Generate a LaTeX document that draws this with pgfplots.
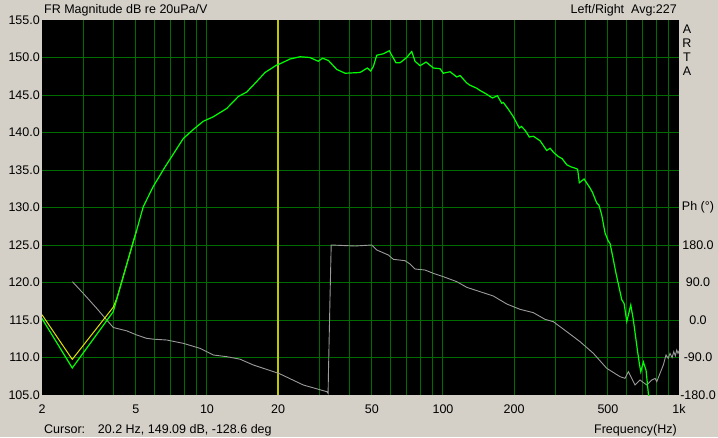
\documentclass[border=0pt]{standalone}
\usepackage{fontspec}
\setmainfont{Liberation Sans}
\usepackage{pgfplots}
\pgfplotsset{compat=1.18}
\usepackage{pgfplotstable}

\definecolor{winbg}{RGB}{212,208,200}
\definecolor{gridgreen}{RGB}{0,108,0}
\definecolor{cursorcol}{RGB}{190,200,0}
\definecolor{maggreen}{RGB}{0,255,0}
\definecolor{magyellow}{RGB}{225,225,0}
\definecolor{phasegray}{RGB}{155,155,155}

\pgfplotstableread{
f db
2.000 115.2
2.687 108.6
4.006 116.1
4.92 125.9
5.04 127.0
5.37 130.1
5.92 132.8
6.64 135.4
7.94 139.2
8.75 140.4
9.65 141.5
10.64 142.1
12.12 143.2
13.58 144.8
14.74 145.4
16.25 146.8
17.62 148.0
19.75 149.0
20.2 149.1
22.5 149.8
24.0 150.0
24.8 150.1
27.3 150.0
29.6 149.5
30.9 149.9
32.7 149.6
35.5 148.4
38.5 147.9
44.5 148.0
47.8 148.6
49.4 148.2
50.7 148.8
52.4 150.3
55.9 150.5
59.2 150.9
63.2 149.3
65.8 149.3
70.2 150.0
73.7 150.8
76.1 149.5
80.0 148.9
84.8 149.4
91.0 148.6
97.2 148.5
100.3 147.9
107.1 148.1
114.4 147.4
118.1 147.6
126.1 146.6
130.2 146.3
139.0 145.9
143.5 145.6
153.3 145.1
161.9 144.6
170.0 144.9
177.4 143.9
180.2 144.0
189.2 143.1
198.6 142.1
210.6 140.6
215.0 140.8
222.7 140.3
232.2 139.4
241.5 139.5
257.8 138.9
275.2 137.6
284.2 137.9
295.0 137.3
308.2 136.8
320.0 136.5
334.5 135.7
350.0 135.4
366.2 135.2
372.0 135.1
378.2 133.3
396.0 133.8
419.8 132.6
430.0 132.0
448.2 130.6
458.0 130.3
470.5 129.0
486.0 126.6
502.0 125.5
510.4 125.2
525.0 123.3
541.0 121.2
572.2 117.7
585.2 117.2
600.8 114.8
624.6 117.0
640.6 115.0
666.2 111.0
679.2 109.2
688.8 108.1
706.4 109.4
725.2 108.3
741.6 105.2
760.0 103.0
}\magdata

\pgfplotstableread{
f db
2.000 115.7
2.687 109.75
4.006 116.7
4.15 117.9
4.92 125.9
5.04 127.0
}\yellowdata

\pgfplotstableread{
f ph
2.69 92
2.99 64
3.41 28
3.76 0
4.01 -18
4.57 -26
5.04 -36
5.55 -44
5.92 -46
6.75 -48
7.94 -56
9.34 -68
10.64 -84
12.12 -88
13.80 -94
15.72 -108
20.25 -128.6
25.6 -156
32.2 -172
32.6 -176
32.7 -132
33.2 48
33.6 180
42.4 177.6
49.9 180
52.4 168
58.7 156
61.6 145.6
69.0 142.4
72.5 134.4
76.1 122.4
83.9 120
91.0 112
100.3 104
114.4 92
126.1 78.4
143.5 68
163.4 57.6
186.3 38.4
212.0 25.6
241.5 17.6
270.5 1.6
293.5 -4
334.5 -28
380.8 -52
433.6 -80
494.2 -116
562.6 -136
590.6 -140
610.0 -124
651.3 -156
683.8 -144
730.0 -156
766.6 -144
792 -140
805 -148
831 -128
858 -108
881 -84
900 -92
916 -80
935 -90
950 -76
965 -86
978 -72
990 -80
1000 -74
}\phasedata

\begin{document}
\begin{tikzpicture}[font=\fontsize{12.5pt}{15pt}\selectfont]
\fill[winbg] (0,0) rectangle (718pt,437pt);

% phase axis with background and grid
\begin{axis}[
  at={(42pt,42pt)}, anchor=south west,
  scale only axis, width=637pt, height=375pt,
  xmode=log, xmin=2, xmax=1000,
  ymin=-180, ymax=720,
  axis background/.style={fill=black},
  axis line style={draw=none},
  major tick length=0pt, minor tick length=0pt,
  xtick={5,10,20,50,100,200,500},
  xticklabels={5,10,20,50,100,200,500},
  minor xtick={3,4,6,7,8,9,30,40,60,70,80,90,300,400,600,700,800,900},
  extra x ticks={2,1000},
  extra x tick labels={2,1k},
  extra x tick style={grid=none},
  ytick={-90,0,90,180,270,360,450,540,630},
  yticklabels={-90.0,0.0,90.0,180.0,Ph (°),,,,},
  extra y ticks={-180},
  extra y tick labels={-180.0},
  extra y tick style={grid=none},
  yticklabel pos=right,
  xmajorgrids, xminorgrids, ymajorgrids,
  grid style={draw=gridgreen, line width=1pt},
  minor grid style={draw=gridgreen, line width=1pt},
  tick label style={font=\fontsize{12.5pt}{15pt}\selectfont},
  xticklabel style={anchor=base, yshift=-18.3pt, inner sep=0pt},
  yticklabel style={anchor=center, xshift=19pt, inner sep=0pt},
]
\addplot[cursorcol, line width=1.1pt] coordinates {(20,-180) (20,720)};
\addplot[phasegray, line width=0.9pt] table[x=f, y=ph] {\phasedata};
\end{axis}

% magnitude axis
\begin{axis}[
  at={(42pt,42pt)}, anchor=south west,
  scale only axis, width=637pt, height=375pt,
  xmode=log, xmin=2, xmax=1000,
  ymin=105, ymax=155,
  axis line style={draw=none},
  major tick length=0pt, minor tick length=0pt,
  xtick=\empty,
  ytick={105,110,...,155},
  tick label style={font=\fontsize{12.5pt}{15pt}\selectfont},
  yticklabel style={anchor=east, xshift=-2pt, inner sep=0pt,
    /pgf/number format/.cd, fixed, fixed zerofill, precision=1, assume math mode=true},
]
\addplot[magyellow, line width=1pt] table[x=f, y=db] {\yellowdata};
\addplot[maggreen, line width=1.2pt] table[x=f, y=db] {\magdata};
\end{axis}

\node[anchor=base west, inner sep=0pt] at (44pt,423pt) {FR Magnitude dB re 20uPa/V};
\node[anchor=base east, inner sep=0pt] at (677pt,423pt) {Left/Right\ \ Avg:227};
\node[inner sep=0pt] at (687pt,408pt) {A};
\node[inner sep=0pt] at (687pt,393.5pt) {R};
\node[inner sep=0pt] at (687pt,379.5pt) {T};
\node[inner sep=0pt] at (687pt,366pt) {A};
\node[anchor=base west, inner sep=0pt] at (44pt,3.7pt) {Cursor:};
\node[anchor=base west, inner sep=0pt] at (97.7pt,3.7pt) {20.2 Hz, 149.09 dB, -128.6 deg};
\node[anchor=base east, inner sep=0pt] at (677pt,3.7pt) {Frequency(Hz)};
\end{tikzpicture}
\end{document}
